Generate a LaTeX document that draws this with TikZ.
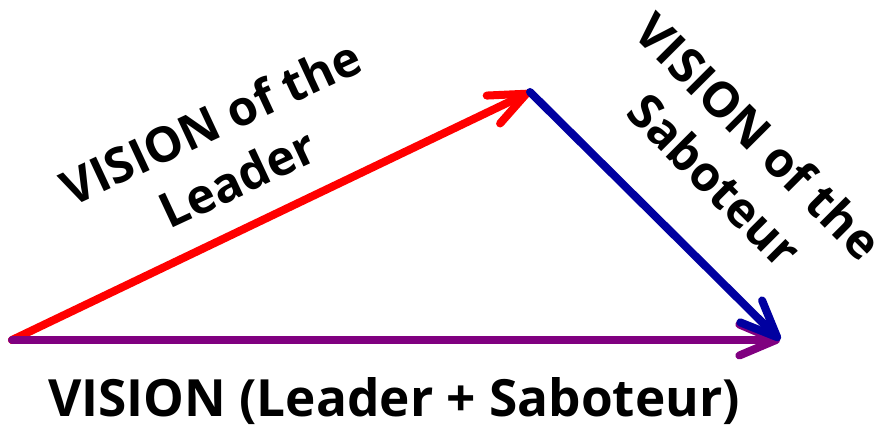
\documentclass[tikz,border=0pt]{standalone}
\usepackage{fontspec}
\setmainfont{Open Sans}
\usetikzlibrary{arrows.meta}
\definecolor{vred}{RGB}{255,0,0}
\definecolor{vblue}{RGB}{0,0,160}
\definecolor{vpurple}{RGB}{128,0,128}
\tikzset{
  vec/.style={line width=5.7pt, line cap=round, line join=round,
    -{Straight Barb[length=26pt,width=22pt,line cap=round,line join=round]}},
  lbl/.style={font=\bfseries\fontsize{36.5}{44}\selectfont, align=center, inner sep=0pt},
  rlbl/.style={font=\bfseries\fontsize{34.5}{44}\selectfont, align=center, inner sep=0pt}
}
\begin{document}
\begin{tikzpicture}[x=0.025cm,y=-0.025cm]
\useasboundingbox (0,0) rectangle (880,426);
\coordinate (O) at (12,340);
\coordinate (A) at (530,92);
\coordinate (B) at (780,340);
\draw[vec, vred] (O) -- (A);
\draw[vec, vpurple] (O) -- (B);
\draw[vec, vblue] (A) -- (B);
\node[rlbl, rotate=25] (leader) at (224,150) {VISION of the\\Leader};
\node[rlbl, rotate=-45] (sab) at (737,158) {VISION of the\\Saboteur};
\node[lbl, anchor=base] (sum) at (394,416) {VISION (Leader + Saboteur)};
\end{tikzpicture}
\end{document}
